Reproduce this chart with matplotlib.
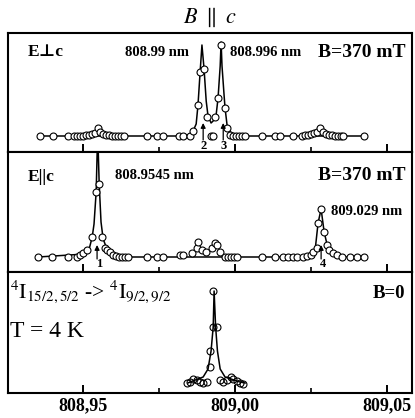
import numpy as np
import matplotlib
matplotlib.use("Agg")
import matplotlib.pyplot as plt
from matplotlib.ticker import FixedLocator, NullFormatter

plt.rcParams['font.family'] = ['Liberation Serif', 'DejaVu Serif']
plt.rcParams['mathtext.fontset'] = 'stix'

# --- E perp c, B = 370 mT : measured points and Lorentz fit (nm, a.u.)
wl_perp = [808.9359, 808.9401, 808.9451, 808.9470, 808.9480, 808.9490, 808.9500,
           808.9510, 808.9520, 808.9530, 808.9539, 808.9549, 808.9556, 808.9566,
           808.9576, 808.9586, 808.9595, 808.9605, 808.9615, 808.9625, 808.9635,
           808.9711, 808.9743, 808.9763, 808.9816, 808.9829, 808.9852, 808.9862,
           808.9878, 808.9885, 808.9898, 808.9908, 808.9921, 808.9928, 808.9934,
           808.9944, 808.9954, 808.9967, 808.9974, 808.9984, 808.9993, 809.0003,
           809.0013, 809.0023, 809.0033, 809.0089, 809.0132, 809.0148, 809.0191,
           809.0220, 809.0230, 809.0240, 809.0250, 809.0260, 809.0270, 809.0280,
           809.0289, 809.0299, 809.0309, 809.0319, 809.0329, 809.0339, 809.0349,
           809.0355, 809.0424]
int_perp = [0, 0, 0, 0, 0, 0, 0,
            1, 1, 2, 3, 8, 4, 2,
            1, 1, 0, 0, 0, 0, 0,
            0, 0, 0, 0, 0, 0, 5,
            31, 64, 67, 19, 0, 0, 19,
            38, 91, 28, 8, 1, 0, 0,
            0, 0, 0, 0, 0, 0, 0,
            0, 1, 1, 2, 3, 4, 8,
            4, 2, 1, 1, 0, 0, 0,
            0, 0]
fit_wl_perp = [808.9359, 808.9836, 808.9859, 808.9872, 808.9878, 808.9885, 808.9891,
               808.9898, 808.9905, 808.9911, 808.9921, 808.9931, 808.9938, 808.9944,
               808.9951, 808.9954, 808.9957, 808.9964, 808.9967, 808.9974, 808.9984,
               809.0003, 809.0033, 809.0424]
fit_int_perp = [0, 0, 3, 12, 31, 64, 91,
                67, 35, 20, 13, 16, 22, 38,
                70, 94, 70, 40, 28, 10, 4,
                1, 0, 0]

# --- E || c, B = 370 mT
wl_par = [808.9352, 808.9398, 808.9451, 808.9480, 808.9490, 808.9500, 808.9513,
          808.9530, 808.9543, 808.9553, 808.9563, 808.9572, 808.9579, 808.9589,
          808.9599, 808.9609, 808.9618, 808.9628, 808.9638, 808.9648, 808.9711,
          808.9743, 808.9763, 808.9819, 808.9829, 808.9859, 808.9875, 808.9878,
          808.9891, 808.9905, 808.9924, 808.9934, 808.9941, 808.9951, 808.9967,
          808.9977, 808.9987, 808.9997, 809.0007, 809.0089, 809.0132, 809.0158,
          809.0174, 809.0191, 809.0204, 809.0224, 809.0237, 809.0250, 809.0257,
          809.0270, 809.0273, 809.0283, 809.0293, 809.0303, 809.0309, 809.0322,
          809.0336, 809.0352, 809.0378, 809.0401, 809.0424]
int_par = [0, 0, 0, 0, 2, 4, 7,
           20, 65, 73, 20, 9, 7, 5,
           2, 1, 0, 0, 0, 0, 0,
           0, 0, 2, 2, 4, 9, 15,
           7, 5, 9, 14, 12, 5, 0,
           0, 0, 0, 0, 0, 0, 0,
           0, 0, 0, 0, 1, 2, 5,
           9, 34, 48, 25, 12, 7, 4,
           2, 0, 0, 0, 0]
fit_wl_par = [808.9352, 808.9507, 808.9520, 808.9530, 808.9536, 808.9543, 808.9548,
              808.9553, 808.9559, 808.9566, 808.9576, 808.9589, 808.9609, 808.9638,
              809.0230, 809.0250, 809.0263, 809.0273, 809.0283, 809.0293, 809.0303,
              809.0316, 809.0336, 809.0362, 809.0424]
fit_int_par = [0, 3, 8, 20, 33, 65, 125,
               73, 35, 18, 10, 5, 2, 0,
               0, 2, 6, 34, 48, 25, 12,
               5, 2, 0, 0]

# --- B = 0
wl_zero = [808.9842, 808.9852, 808.9862, 808.9875, 808.9885, 808.9895, 808.9908,
           808.9918, 808.9918, 808.9928, 808.9928, 808.9942,
           808.9951, 808.9961, 808.9974, 808.9987, 808.9993, 809.0007, 809.0016,
           809.0026]
int_zero = [0, 1, 4, 3, 1, 0, 1,
            32, 16, 92, 56, 56,
            3, 1, 3, 6, 4, 2, 0,
            -1]
fit_wl_zero = [808.9845, 808.9852, 808.9895, 808.9911, 808.9921, 808.9928, 808.9931,
               808.9936, 808.9942, 808.9951, 808.9967, 809.0016, 809.0033]
fit_int_zero = [0, 1, 6, 14, 32, 56, 92,
                56, 32, 14, 6, 1, 0]

major_ticks = [808.95, 809.00, 809.05]
minor_ticks = [808.975, 809.025]
tick_labels = ['808,95', '809,00', '809,05']

W, H = 415, 418
fig = plt.figure(figsize=(W / 100, H / 100), dpi=100)


def panel(top, bottom, ylim):
    ax = fig.add_axes([8 / W, 1 - bottom / H, 404 / W, (bottom - top) / H])
    ax.set_xlim(808.9253, 809.0582)
    ax.set_ylim(*ylim)
    ax.set_yticks([])
    ax.xaxis.set_major_locator(FixedLocator(major_ticks))
    ax.xaxis.set_minor_locator(FixedLocator(minor_ticks))
    ax.xaxis.set_major_formatter(NullFormatter())
    ax.tick_params(axis='x', which='major', direction='in', length=6, width=1.4)
    ax.tick_params(axis='x', which='minor', direction='in', length=3.5, width=1.2)
    for s in ax.spines.values():
        s.set_linewidth(1.5)
    return ax


mk = dict(marker='o', ms=5, mew=0.8, mec='black', ls='none')
bold = dict(fontweight='bold')

ax1 = panel(33, 152, (-16, 103))
ax1.plot(fit_wl_perp, fit_int_perp, color='black', lw=1.1)
ax1.plot(wl_perp, int_perp, mfc='white', **mk)
ax1.text(0.05, 0.84, 'E\u22a5c', transform=ax1.transAxes, fontsize=12.5,
         va='center', ha='left', **bold)
ax1.text(0.29, 0.84, '808.99 nm', transform=ax1.transAxes, fontsize=10.5,
         va='center', ha='left', **bold)
ax1.text(0.55, 0.832, '808.996 nm', transform=ax1.transAxes, fontsize=10.5,
         va='center', ha='left', **bold)
ax1.text(0.983, 0.832, 'B=370 mT', transform=ax1.transAxes, fontsize=14,
         va='center', ha='right', **bold)
for x0, lab in [(808.9895, '2'), (808.9961, '3')]:
    ax1.annotate('', xy=(x0, 13), xytext=(x0, -4),
                 arrowprops=dict(arrowstyle='-|>', lw=0.9, color='black',
                                 mutation_scale=7, shrinkA=0, shrinkB=0))
    ax1.text(x0, -10, lab, fontsize=9, ha='center', va='center', **bold)

ax2 = panel(152, 272, (-15, 105))
ax2.plot(fit_wl_par, fit_int_par, color='black', lw=1.1)
ax2.plot(wl_par, int_par, mfc='white', **mk)
ax2.text(0.05, 0.79, 'E||c', transform=ax2.transAxes, fontsize=12.5,
         va='center', ha='left', **bold)
ax2.text(0.265, 0.80, '808.9545 nm', transform=ax2.transAxes, fontsize=10.5,
         va='center', ha='left', **bold)
ax2.text(0.983, 0.80, 'B=370 mT', transform=ax2.transAxes, fontsize=14,
         va='center', ha='right', **bold)
ax2.text(0.80, 0.50, '809.029 nm', transform=ax2.transAxes, fontsize=10.5,
         va='center', ha='left', **bold)
for x0, lab in [(808.9546, '1'), (809.0283, '4')]:
    ax2.annotate('', xy=(x0, 12), xytext=(x0, -2),
                 arrowprops=dict(arrowstyle='-|>', lw=0.9, color='black',
                                 mutation_scale=7, shrinkA=0, shrinkB=0))
    ax2.text(x0 + 0.0006, -7, lab, fontsize=9, ha='center', va='center', **bold)

ax3 = panel(272, 393, (-10, 111))
ax3.plot(fit_wl_zero, fit_int_zero, color='black', lw=1.1)
ax3.plot(wl_zero, int_zero, mfc='none', **mk)
ax3.text(0.005, 0.785, r'$^4\mathrm{I}_{15/2,5/2}$ -> $^4\mathrm{I}_{9/2,9/2}$',
         transform=ax3.transAxes, fontsize=15.5, va='baseline', ha='left')
ax3.text(0.005, 0.463, 'T = 4 K', transform=ax3.transAxes, fontsize=17,
         va='baseline', ha='left')
ax3.text(0.983, 0.826, 'B=0', transform=ax3.transAxes, fontsize=13.5,
         va='center', ha='right', **bold)
ax3.set_xticks(major_ticks)
ax3.set_xticklabels(tick_labels, fontsize=13, fontweight='bold')
ax3.tick_params(axis='x', which='major', pad=3)

fig.text(0.505, 1 - 17 / H, r'$B\ \parallel\ c$', fontsize=16, ha='center', va='center')

fig.savefig('out.png', dpi=100)
